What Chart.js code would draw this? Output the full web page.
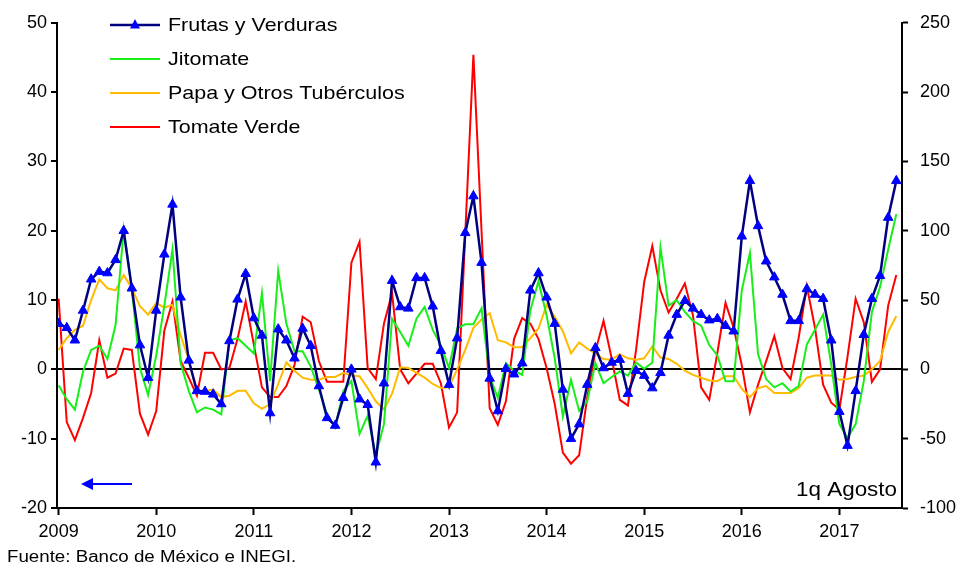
<!DOCTYPE html>
<html>
<head>
<meta charset="utf-8">
<script src="https://cdn.jsdelivr.net/npm/chart.js@4.4.1/dist/chart.umd.min.js"></script>
<style>
  html, body { margin: 0; padding: 0; background: #fff; }
</style>
</head>
<body>
<canvas id="chart" width="965" height="567"></canvas>
<script>
// monthly, Jan 2009 .. Aug 2017 (1q Agosto)
const startYear = 2009;
const yearTicks = [2009, 2010, 2011, 2012, 2013, 2014, 2015, 2016, 2017];

// left axis (%)
const frutasVerduras = [
  6.6, 6.0, 4.2, 8.5, 13.0, 14.1, 13.9, 15.8, 20.0, 11.7, 3.5, -1.2,
  8.5, 16.6, 23.8, 10.4, 1.3, -3.1, -3.2, -3.6, -5.0, 4.1, 10.1, 13.8,
  7.4, 4.9, -6.3, 5.8, 4.2, 1.6, 5.9, 3.4, -2.4, -7.0, -8.1, -4.1,
  0.0, -4.3, -5.1, -13.4, -2.0, 12.8, 9.0, 8.8, 13.2, 13.2, 9.1, 2.7,
  -2.2, 4.5, 19.7, 25.0, 15.4, -1.3, -6.0, 0.1, -0.7, 0.9, 11.4, 13.9,
  10.4, 6.6, -2.9, -10.0, -7.9, -2.2, 3.1, 0.2, 1.0, 1.4, -3.5, -0.2,
  -0.9, -2.7, -0.5, 4.9, 7.9, 9.9, 8.8, 7.9, 7.1, 7.3, 6.3, 5.5,
  19.2, 27.2, 20.7, 15.6, 13.3, 10.8, 7.0, 7.0, 11.6, 10.8, 10.2, 4.2,
  -6.1, -11.0, -3.1, 5.0, 10.2, 13.5, 21.9, 27.2
];
const jitomate = [
  -2.3, -4.3, -5.8, -0.3, 2.8, 3.4, 1.5, 6.4, 20.2, 11.6, 0.2, -3.7,
  2.0, 9.2, 17.3, 0.9, -3.1, -6.2, -5.5, -5.8, -6.5, 4.2, 4.5, 3.4,
  2.3, 11.0, -1.7, 14.2, 6.6, 2.6, 2.6, 0.4, -2.9, -6.5, -8.4, -3.1,
  -1.7, -9.3, -6.7, -12.4, -7.9, 7.3, 5.4, 3.4, 7.3, 9.0, 5.7, 3.5,
  0.2, 5.9, 6.5, 6.5, 8.8, -1.0, -4.1, 0.9, -0.2, -0.8, 8.5, 12.7,
  7.8, 1.6, -6.8, -1.5, -6.0, -4.6, 0.9, -2.0, -1.1, -0.3, -0.9, 1.0,
  0.1, 1.0, 17.6, 9.2, 10.0, 8.3, 7.0, 6.3, 3.5, 2.0, -1.7, -1.7,
  11.4, 16.8, 2.2, -1.4, -2.6, -2.0, -3.2, -2.4, 3.6, 5.7, 7.9, 0.7,
  -7.9, -9.9, -7.9, -1.7, 8.3, 11.9, 17.3, 22.4
];
const papaTuberculos = [
  2.8, 4.5, 5.7, 6.3, 10.0, 13.0, 11.7, 11.4, 13.6, 11.7, 9.1, 7.9,
  9.6, 8.9, 9.3, 4.9, 1.4, -3.4, -3.1, -2.9, -4.0, -3.8, -3.1, -3.1,
  -4.9, -5.7, -5.0, -2.1, 1.0, -0.2, -1.2, -1.5, -1.5, -1.1, -1.1, -0.5,
  -0.9, -1.0, -2.7, -4.6, -5.8, -3.5, 0.3, 0.2, -0.5, -1.2, -2.1, -2.7,
  -2.6, 0.0, 2.8, 6.0, 7.2, 8.1, 4.2, 3.9, 3.2, 3.2, 4.5, 5.9,
  9.3, 7.6, 5.5, 2.3, 3.9, 3.0, 2.3, 1.5, 1.4, 2.2, 1.6, 1.4,
  1.6, 3.3, 1.7, 1.5, 0.8, -0.2, -0.8, -1.2, -1.6, -1.7, -1.0, -1.0,
  -2.8, -4.0, -2.7, -2.4, -3.4, -3.4, -3.4, -2.7, -1.2, -0.9, -0.9, -0.9,
  -1.5, -1.4, -1.1, -0.9, 0.0, 1.2, 5.4, 7.7
];
// right axis (%)
const tomateVerde = [
  51, -38, -51, -35, -17, 21, -6, -3, 15, 14, -32, -47,
  -30, 28, 49, 6, -6, -19, 12, 12, 0, 1, 22, 49,
  18, -13, -20, -20, -12, 3, 38, 34, 6, -9, -9, -9,
  77, 92, 1, -7, 33, 55, 0, -10, -3, 4, 4, -10,
  -42, -31, 98, 227, 100, -28, -40, -23, 22, 37, 33, 22,
  1, -25, -60, -68, -62, -20, 13, 35, 8, -22, -26, 14,
  63, 89, 57, 41, 51, 62, 39, -13, -22, 12, 48, 30,
  3, -31, -11, 6, 24, 1, -7, 23, 60, 30, -11, -24,
  -29, 9, 51, 34, -9, 0, 46, 68
];

const FONT = '"Liberation Sans", Arial, sans-serif';
const NAVY = '#000080', BLUE = '#0000ff', GREEN = '#18ee18', ORANGE = '#ffbb00', RED = '#ff0000';

function toPoints(arr) {
  return arr.map((v, i) => ({ x: i, y: v }));
}

const series = [
  { label: 'Frutas y Verduras', data: frutasVerduras, color: NAVY, axis: 'y', marker: true },
  { label: 'Jitomate', data: jitomate, color: GREEN, axis: 'y' },
  { label: 'Papa y Otros Tubérculos', data: papaTuberculos, color: ORANGE, axis: 'y' },
  { label: 'Tomate Verde', data: tomateVerde, color: RED, axis: 'y2' }
];

// text a bit wider than Liberation, like the original's rendering
function wideText(ctx, text, x, y, size, stretch, align) {
  ctx.save();
  ctx.font = size + 'px ' + FONT;
  const w = ctx.measureText(text).width * stretch;
  const left = align === 'right' ? x - w : x;
  ctx.translate(left, y);
  ctx.scale(stretch, 1);
  ctx.textAlign = 'left';
  ctx.textBaseline = 'middle';
  ctx.fillText(text, 0, 0);
  ctx.restore();
}

// legend, arrow, notes
const extras = {
  id: 'extras',
  afterDraw(chart) {
    const ctx = chart.ctx;
    ctx.save();
    series.forEach((s, i) => {
      const y = 25 + i * 34;
      ctx.strokeStyle = s.color;
      ctx.lineWidth = s.marker ? 2.5 : 2;
      ctx.beginPath();
      ctx.moveTo(110, y);
      ctx.lineTo(160, y);
      ctx.stroke();
      if (s.marker) {
        ctx.fillStyle = BLUE;
        ctx.beginPath();
        ctx.moveTo(135, y - 6);
        ctx.lineTo(140, y + 3.5);
        ctx.lineTo(130, y + 3.5);
        ctx.closePath();
        ctx.fill();
      }
      ctx.fillStyle = '#000';
      wideText(ctx, s.label, 168, y + 1, 19, 1.13, 'left');
    });

    // blue arrow -> left axis
    ctx.strokeStyle = BLUE;
    ctx.fillStyle = BLUE;
    ctx.lineWidth = 2;
    ctx.beginPath();
    ctx.moveTo(90, 484);
    ctx.lineTo(132, 484);
    ctx.stroke();
    ctx.beginPath();
    ctx.moveTo(81, 484);
    ctx.lineTo(93, 478);
    ctx.lineTo(93, 490);
    ctx.closePath();
    ctx.fill();

    ctx.fillStyle = '#000';
    wideText(ctx, '1q Agosto', 897, 490, 20, 1.12, 'right');
    wideText(ctx, 'Fuente: Banco de México e INEGI.', 7, 558, 16, 1.17, 'left');
    ctx.restore();
  }
};

new Chart(document.getElementById('chart'), {
  type: 'line',
  data: {
    datasets: series.map(s => ({
      label: s.label,
      data: toPoints(s.data),
      yAxisID: s.axis,
      borderColor: s.color,
      borderWidth: s.marker ? 2.5 : 2,
      pointStyle: 'triangle',
      pointRadius: s.marker ? 5.5 : 0,
      pointBackgroundColor: BLUE,
      pointBorderColor: BLUE,
      pointBorderWidth: 1,
      tension: 0,
      fill: false
    }))
  },
  options: {
    responsive: false,
    animation: false,
    devicePixelRatio: 1,
    layout: { padding: { top: 19, left: 0, right: 0, bottom: 0 } },
    plugins: {
      legend: { display: false },
      tooltip: { enabled: false },
      title: { display: false }
    },
    scales: {
      x: {
        type: 'linear',
        min: -0.2,
        max: 103.7,
        afterBuildTicks(scale) {
          scale.ticks = yearTicks.map(y => ({ value: (y - startYear) * 12 }));
        },
        afterFit(scale) { scale.height = 59; },
        ticks: {
          color: '#000',
          font: { family: FONT, size: 18 },
          padding: 6,
          maxRotation: 0,
          autoSkip: false,
          callback: v => String(startYear + Math.round(v / 12))
        },
        grid: { drawOnChartArea: false, drawTicks: true, tickLength: 7, tickColor: '#000', tickWidth: 2 },
        border: { display: true, color: '#000', width: 2 }
      },
      y: {
        position: 'left',
        min: -20,
        max: 50,
        afterFit(scale) { scale.width = 57; },
        ticks: {
          stepSize: 10,
          color: '#000',
          font: { family: FONT, size: 18 },
          padding: 4
        },
        grid: {
          drawOnChartArea: true,
          drawTicks: true,
          tickLength: 6,
          tickColor: '#000',
          tickWidth: 2,
          color: ctx => (ctx.tick && ctx.tick.value === 0 ? '#000' : 'rgba(0,0,0,0)'),
          lineWidth: 2
        },
        border: { display: true, color: '#000', width: 2 }
      },
      y2: {
        position: 'right',
        min: -100,
        max: 250,
        afterFit(scale) { scale.width = 63; },
        ticks: {
          stepSize: 50,
          color: '#000',
          font: { family: FONT, size: 18 },
          padding: 12
        },
        grid: { drawOnChartArea: false, drawTicks: true, tickLength: 6, tickColor: '#000', tickWidth: 2 },
        border: { display: true, color: '#000', width: 2 }
      }
    }
  },
  plugins: [extras]
});
</script>
</body>
</html>
